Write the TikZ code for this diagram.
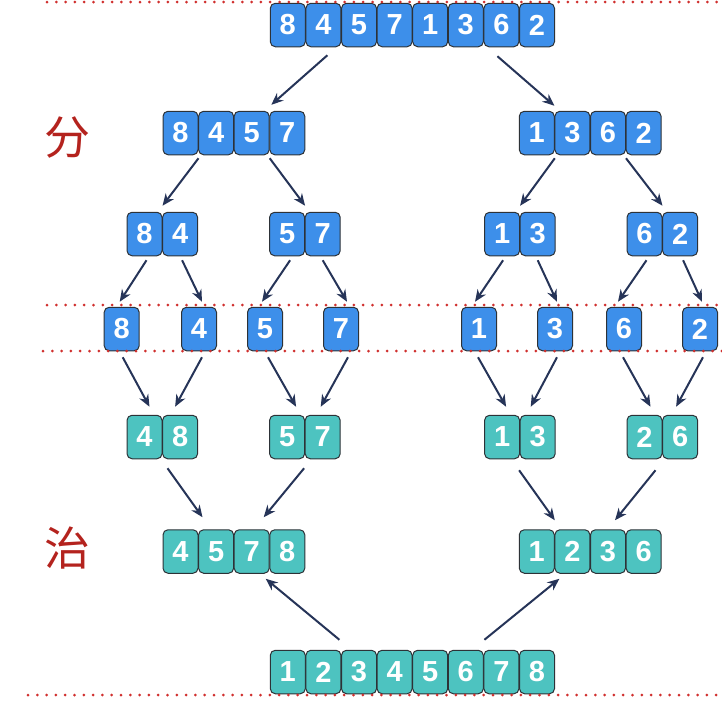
\documentclass[tikz,border=0pt]{standalone}
\usepackage{fontspec}
\setmainfont{Liberation Sans}
\newfontfamily\cjkfont{Noto Sans CJK SC}
\usetikzlibrary{arrows.meta}
\definecolor{cellblue}{RGB}{61,143,234}
\definecolor{cellteal}{RGB}{77,195,192}
\definecolor{cellline}{RGB}{45,50,55}
\definecolor{arrowblue}{RGB}{38,52,88}
\definecolor{dotred}{RGB}{208,48,46}
\definecolor{hanred}{RGB}{180,35,30}
\begin{document}
\begin{tikzpicture}[x=1pt, y=-1pt,
		cell/.style={draw=cellline, line width=1pt, rounded corners=5pt, minimum width=35pt, minimum height=43.5pt, inner sep=0pt, text=white, font=\fontsize{29}{30}\selectfont\bfseries},
		split/.style={cell, fill=cellblue},
		merge/.style={cell, fill=cellteal},
		arr/.style={draw=arrowblue, line width=2pt, -{Stealth[length=12pt, width=10pt]}},
		dotline/.style={dotred, line width=3pt, line cap=round, dash pattern=on 0pt off 9.3pt},
		han/.style={text=hanred, font=\cjkfont\fontsize{46}{46}\selectfont}]
		\useasboundingbox (0,0) rectangle (722,713);
		
		\foreach \g/\x/\y/\ds in {t/252.2/25/{8,4,5,7,1,3,6,2}, a/144.9/133/{8,4,5,7}, b/501.2/133/{1,3,6,2}, c/108.9/234/{8,4}, d/251.5/234/{5,7}, e/466.5/234/{1,3}, f/608.9/234/{6,2}}
		{
			\foreach \d [count=\i] in \ds
				\node[split] (\g\i) at ({\x+35.6*\i},\y) {\d};
		}
		\foreach \d/\x [count=\i] in {8/121.7, 4/199, 5/265, 7/341, 1/479, 3/555, 6/624, 2/700}
			\node[split] (g\i) at (\x,329) {\d};
		\foreach \g/\x/\y/\ds in {h/108.9/437/{4,8}, i/251.5/437/{5,7}, j/466.5/437/{1,3}, k/608.9/437/{2,6}, l/144.9/551.5/{4,5,7,8}, m/501.2/551.5/{1,2,3,6}, n/252.2/672/{1,2,3,4,5,6,7,8}}
		{
			\foreach \d [count=\i] in \ds
				\node[merge] (\g\i) at ({\x+35.6*\i},\y) {\d};
		}
		
		\node[han] (fen) at (67,137) {分};
		\node[han] (zhi) at (67,548) {治};
		
		% divide
		\draw[arr] ([shift={(4,8)}]t2.south) -- ([shift={(2,-6)}]a4.north west);
		\draw[arr] ([shift={(-4,9)}]t7.south) -- ([shift={(0,-5)}]b2.north west);
		\foreach \s/\t in {a1/c1, a3/d1, b1/e1, b3/f1}
			\draw[arr] ([shift={(0,3)}]\s.south east) -- ([shift={(0,-6)}]\t.north east);
		\foreach \s/\t/\u/\v in {c1/g1/2/-2, c2/g2/2/3, d1/g3/3/-3, d2/g4/0/6, e1/g5/1/-4, e2/g6/0/2, f1/g7/2/-6, f2/g8/3/2}
			\draw[arr] ([shift={(\u,4)}]\s.south) -- ([shift={(\v,-5)}]\t.north);
		
		% merge
		\foreach \s/\t/\u/\v in {g1/h1/1/5, g2/h2/3/-5, g3/i1/3/9, g4/i2/7/-2, g5/j1/-1/4, g6/j2/2/-7, g7/k1/-1/6, g8/k2/3/-4}
			\draw[arr] ([shift={(\u,6)}]\s.south) -- ([shift={(\v,-8)}]\t.north);
		\draw[arr] ([shift={(5,9)}]h1.south east) -- ([shift={(4,-12)}]l1.north east);
		\draw[arr] ([shift={(-1,9)}]i1.south east) -- ([shift={(-6,-12)}]l3.north east);
		\draw[arr] ([shift={(-1,11)}]j1.south east) -- ([shift={(0,-9)}]m1.north east);
		\draw[arr] ([shift={(-7,11)}]k1.south east) -- ([shift={(7,-9)}]m3.north);
		\draw[arr] ([shift={(-2,-10)}]n2.north east) -- ([shift={(-4,5)}]l3.south east);
		\draw[arr] ([shift={(1,-10)}]n7.north west) -- ([shift={(5,5)}]m2.south west);
		
		\draw[dotline] (47,2) -- (722,2);
		\draw[dotline] (47,305) -- (722,305);
		\draw[dotline] (43,351) -- (722,351);
		\draw[dotline] (28,695) -- (722,695);
	\end{tikzpicture}
\end{document}
